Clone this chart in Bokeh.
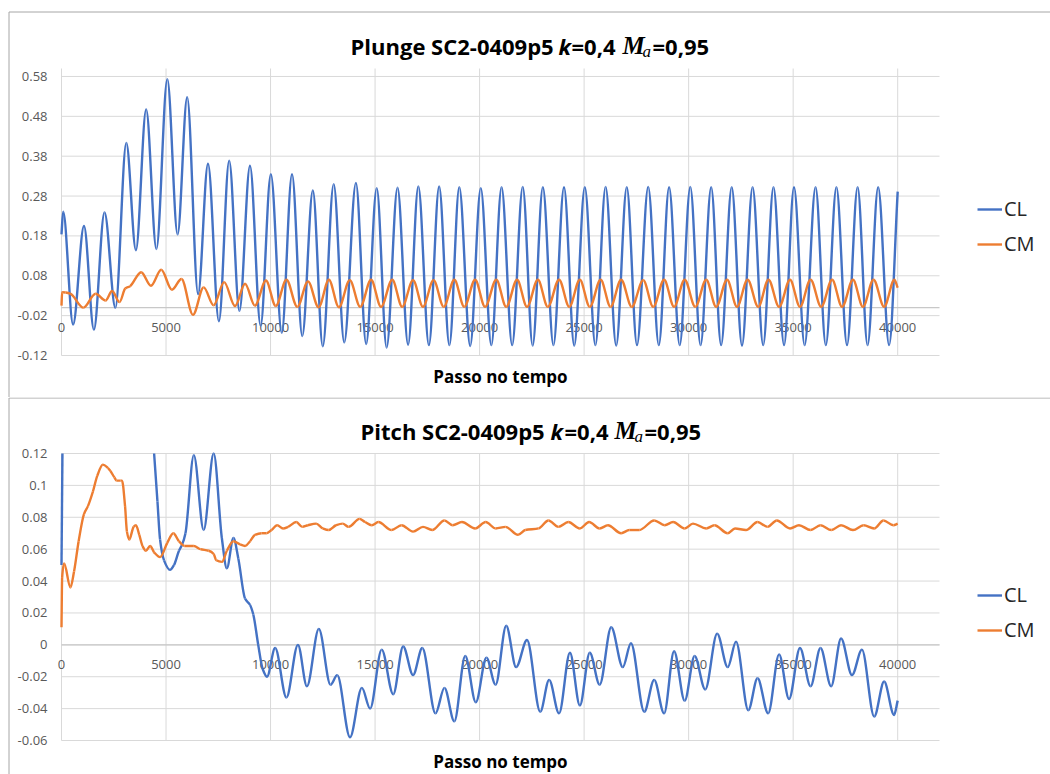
import numpy as np
from bokeh.core.properties import value
from bokeh.layouts import column
from bokeh.models import Legend, LegendItem, Range1d
from bokeh.plotting import figure
from bokeh.embed import file_html
from bokeh.resources import INLINE

# ---------------------------------------------------------------- data
x_ticks = [0, 5000, 10000, 15000, 20000, 25000, 30000, 35000, 40000]
x_tick_labels = ["0", "5000", "10000", "15000", "20000", "25000", "30000", "35000", "40000"]
x_axis_end = 42000

plunge_y_ticks = [-0.12, -0.02, 0.08, 0.18, 0.28, 0.38, 0.48, 0.58]
plunge_y_labels = ["-0.12", "-0.02", "0.08", "0.18", "0.28", "0.38", "0.48", "0.58"]
plunge_y_span = (-0.12, 0.60)

pitch_y_ticks = [-0.06, -0.04, -0.02, 0.0, 0.02, 0.04, 0.06, 0.08, 0.10, 0.12]
pitch_y_labels = ["-0.06", "-0.04", "-0.02", "0", "0.02", "0.04", "0.06", "0.08", "0.1", "0.12"]
pitch_y_span = (-0.06, 0.12)

series_names = ["CL", "CM"]

# (time step, coefficient) samples, plunge case
plunge_cl = [
    (0, 0.184), (80, 0.241), (554, -0.042), (1076, 0.205), (1550, -0.055), (2057, 0.239),
    (2579, 0.000), (3100, 0.413), (3560, 0.144), (4050, 0.497), (4540, 0.147), (5062, 0.573),
    (5553, 0.184), (6012, 0.528), (6534, 0.034), (7008, 0.361), (7530, -0.034), (8021, 0.369),
    (8511, -0.008), (9017, 0.356), (9524, -0.045), (10014, 0.335), (10536, -0.063), (11027, 0.335),
    (11517, -0.071), (12023, 0.294), (12498, -0.097), (13020, 0.310), (13526, -0.087), (14084, 0.313),
    (14573, -0.091), (15079, 0.300), (15553, -0.100), (16074, 0.301), (16580, -0.093), (17070, 0.304),
    (17575, -0.094), (18065, 0.304), (18555, -0.094), (19029, 0.302), (19550, -0.096), (20056, 0.300),
    (20562, -0.094), (21051, 0.302), (21557, -0.094), (22063, 0.303), (22537, -0.095), (23026, 0.302),
    (23532, -0.094), (24038, 0.302), (24527, -0.095), (25033, 0.302), (25539, -0.094), (26028, 0.303),
    (26534, -0.095), (27040, 0.302), (27529, -0.094), (28066, 0.303), (28573, -0.094), (29065, 0.302),
    (29572, -0.094), (30079, 0.303), (30571, -0.094), (31078, 0.302), (31553, -0.094), (32060, 0.302),
    (32552, -0.095), (33059, 0.302), (33566, -0.094), (34058, 0.302), (34565, -0.094), (35040, 0.302),
    (35548, -0.094), (36071, 0.302), (36562, -0.094), (37069, 0.302), (37576, -0.094), (38083, 0.302),
    (38559, -0.094), (39066, 0.302), (39589, -0.094), (40000, 0.291),
]
plunge_cm = [
    (0, 0.005), (30, 0.039), (200, 0.038), (420, 0.035), (1050, 0.000), (1630, 0.035),
    (2110, 0.018), (2420, 0.042), (2775, 0.014), (3050, 0.048), (3280, 0.054), (3810, 0.089),
    (4280, 0.055), (4770, 0.095), (5280, 0.045), (5740, 0.072), (6290, -0.018), (6800, 0.051),
    (7280, 0.006), (7780, 0.064), (8300, 0.004), (8780, 0.060), (9250, 0.005), (9780, 0.068),
    (10250, 0.004), (10760, 0.070), (11280, 0.002), (11790, 0.066), (12300, 0.001), (12790, 0.070),
    (13270, 0.001), (13790, 0.069), (14289, 0.002), (14810, 0.070), (15284, 0.002), (15822, 0.070),
    (16296, 0.002), (16817, 0.069), (17291, 0.002), (17797, 0.069), (18286, 0.002), (18792, 0.070),
    (19266, 0.002), (19787, 0.070), (20261, 0.002), (20799, 0.070), (21273, 0.002), (21794, 0.070),
    (22268, 0.002), (22789, 0.070), (23263, 0.002), (23801, 0.070), (24290, 0.002), (24796, 0.070),
    (25270, 0.002), (25791, 0.070), (26265, 0.002), (26771, 0.070), (27277, 0.002), (27828, 0.069),
    (28304, 0.002), (28827, 0.070), (29303, 0.002), (29810, 0.070), (30317, 0.002), (30840, 0.070),
    (31316, 0.002), (31839, 0.070), (32314, 0.002), (32821, 0.070), (33329, 0.002), (33820, 0.070),
    (34327, 0.002), (34850, 0.070), (35326, 0.002), (35833, 0.070), (36340, 0.002), (36863, 0.070),
    (37339, 0.002), (37862, 0.070), (38337, 0.002), (38844, 0.070), (39352, 0.002), (39843, 0.070),
    (40000, 0.050),
]

# (time step, coefficient) samples, pitch case; None marks where CL leaves the visible range
pitch_cl = [
    (0, 0.050), (45, 0.120), None,
    (4430, 0.120), (4590, 0.090), (4715, 0.066), (4905, 0.053), (5190, 0.047), (5380, 0.050),
    (5620, 0.059), (5775, 0.063), (5930, 0.070), (6330, 0.119), (6800, 0.072), (7280, 0.120),
    (7670, 0.067), (7910, 0.048), (8225, 0.067), (8460, 0.054), (8780, 0.029), (9020, 0.025),
    (9175, 0.019), (9410, 0.000), (9620, -0.015), (9830, -0.020), (10220, -0.002), (10760, -0.033),
    (11310, 0.000), (11740, -0.026), (12310, 0.010), (12870, -0.025), (13190, -0.019), (13800, -0.058),
    (14368, -0.027), (14763, -0.040), (15316, -0.003), (15869, -0.031), (16343, -0.001), (16817, -0.019),
    (17259, -0.002), (17891, -0.043), (18318, -0.027), (18792, -0.048), (19313, -0.007), (19819, -0.036),
    (20325, -0.008), (20767, -0.025), (21273, 0.012), (21747, -0.014), (22268, 0.003), (22900, -0.042),
    (23327, -0.022), (23801, -0.043), (24322, -0.005), (24797, -0.038), (25270, -0.005), (25744, -0.025),
    (26297, 0.011), (26850, -0.014), (27240, 0.001), (27876, -0.042), (28352, -0.022), (28827, -0.043),
    (29303, -0.004), (29810, -0.035), (30285, -0.007), (30793, -0.028), (31363, 0.007), (31870, -0.014),
    (32267, 0.002), (32853, -0.041), (33297, -0.021), (33804, -0.043), (34327, -0.006), (34803, -0.034),
    (35326, -0.002), (35833, -0.026), (36308, -0.002), (36816, -0.026), (37291, 0.004), (37814, -0.019),
    (38290, -0.003), (38876, -0.045), (39352, -0.023), (39827, -0.044), (40000, -0.035),
]
pitch_cm = [
    (0, 0.011), (30, 0.042), (127, 0.051), (427, 0.036), (600, 0.046), (820, 0.065),
    (1075, 0.082), (1265, 0.087), (1500, 0.096), (1710, 0.106), (1980, 0.113), (2215, 0.111),
    (2340, 0.109), (2530, 0.105), (2640, 0.103), (2815, 0.103), (2895, 0.103), (3040, 0.087),
    (3130, 0.071), (3240, 0.066), (3450, 0.074), (3560, 0.075), (3720, 0.069), (3875, 0.062),
    (4035, 0.059), (4240, 0.062), (4430, 0.058), (4715, 0.055), (5060, 0.064), (5350, 0.070),
    (5615, 0.065), (5885, 0.062), (6330, 0.062), (6645, 0.060), (7040, 0.059), (7280, 0.057),
    (7405, 0.053), (7675, 0.052), (7910, 0.059), (8225, 0.065), (8545, 0.063), (8780, 0.062),
    (9020, 0.065), (9255, 0.069), (9570, 0.070), (9810, 0.070), (10045, 0.072), (10315, 0.075),
    (10600, 0.073), (10840, 0.074), (11230, 0.077), (11520, 0.074), (11785, 0.075), (12180, 0.076),
    (12500, 0.073), (12780, 0.072), (13130, 0.075), (13450, 0.076), (13736, 0.074), (14257, 0.079),
    (14526, 0.077), (14842, 0.075), (15158, 0.077), (15790, 0.072), (16264, 0.075), (16817, 0.071),
    (17291, 0.074), (17733, 0.072), (18318, 0.078), (18713, 0.075), (19155, 0.077), (19787, 0.073),
    (20293, 0.077), (20767, 0.073), (21241, 0.074), (21841, 0.069), (22189, 0.072), (22821, 0.073),
    (23295, 0.078), (23769, 0.074), (24243, 0.077), (24796, 0.073), (25238, 0.077), (25744, 0.073),
    (26139, 0.075), (26771, 0.070), (27166, 0.072), (27640, 0.072), (28352, 0.078), (28859, 0.075),
    (29255, 0.077), (29810, 0.073), (30206, 0.076), (30840, 0.073), (31236, 0.075), (31870, 0.070),
    (32219, 0.073), (32742, 0.072), (33297, 0.077), (33772, 0.074), (34216, 0.078), (34850, 0.073),
    (35278, 0.075), (35833, 0.072), (36308, 0.075), (36831, 0.072), (37291, 0.075), (37862, 0.072),
    (38369, 0.075), (38876, 0.073), (39320, 0.078), (39795, 0.075), (40000, 0.076),
]

# ---------------------------------------------------------------- style / geometry
BLUE = "#4472C4"
ORANGE = "#ED7D31"
GRID = "#d9d9d9"
AXIS = "#c8c8c8"
BORDER = "#a6a6a6"
TICK_TEXT = "#595959"
SANS = "Open Sans"
SERIF = "Liberation Serif"
LINE_W = 2.4

PAGE_W = 1050
PLOT_LEFT, PLOT_RIGHT = 61, 939          # plot-area edges, px
PLOT_H = 287                              # plot-area height, px
SX = (PLOT_RIGHT - PLOT_LEFT) / x_axis_end  # px per time step


def smooth_segments(pts):
    """Monotone cubic Bezier pieces through the samples (a smoothed line);
    a None entry starts a new run."""
    runs, cur = [], []
    for p in pts:
        if p is None:
            runs.append(cur)
            cur = []
        else:
            cur.append(p)
    runs.append(cur)
    out = {k: [] for k in ("x0", "y0", "x1", "y1", "cx0", "cy0", "cx1", "cy1")}
    for run in runs:
        x = np.array([p[0] for p in run], dtype=float)
        y = np.array([p[1] for p in run], dtype=float)
        h = np.diff(x)
        d = np.diff(y) / h
        m = np.zeros_like(y)
        m[0], m[-1] = d[0], d[-1]
        for i in range(1, len(y) - 1):
            if d[i - 1] * d[i] > 0:
                w1 = 2 * h[i] + h[i - 1]
                w2 = h[i] + 2 * h[i - 1]
                m[i] = (w1 + w2) / (w1 / d[i - 1] + w2 / d[i])
        out["x0"] += list(x[:-1]); out["y0"] += list(y[:-1])
        out["x1"] += list(x[1:]); out["y1"] += list(y[1:])
        out["cx0"] += list(x[:-1] + h / 3); out["cy0"] += list(y[:-1] + m[:-1] * h / 3)
        out["cx1"] += list(x[1:] - h / 3); out["cy1"] += list(y[1:] - m[1:] * h / 3)
    return out


def make_chart(name, cl, cm, y_ticks, y_labels, y_span, canvas_top, canvas_h,
               plot_top, box_top, title_base, title_x, legend_bottom):
    """One chart panel. Pixel arguments are page coordinates."""
    lo, hi = y_span
    sy = PLOT_H / (hi - lo)                      # px per unit

    def xd(px):                                  # page x -> time step
        return (px - PLOT_LEFT) / SX

    def yd(py):                                  # page y -> coefficient
        return hi - (py - plot_top) / sy

    p = figure(
        width=PAGE_W, height=canvas_h,
        x_range=Range1d(xd(0), xd(PAGE_W)),
        y_range=Range1d(yd(canvas_top + canvas_h), yd(canvas_top)),
        x_axis_type=None, y_axis_type=None, title=None,
        toolbar_location=None, output_backend="svg",
        min_border=0, outline_line_color=None,
        background_fill_color="white", border_fill_color="white",
    )
    p.grid.visible = False

    # chart border (top and left edges)
    bx = xd(8.5)
    by = yd(box_top + 0.5)
    p.segment(x0=[bx, bx], y0=[by, by], x1=[xd(PAGE_W), bx], y1=[by, yd(canvas_top + canvas_h)],
              line_color=BORDER, line_width=1)

    # grid
    p.segment(x0=x_ticks, x1=x_ticks, y0=[lo] * len(x_ticks), y1=[hi] * len(x_ticks),
              line_color=GRID, line_width=1)
    p.segment(x0=[0] * len(y_ticks), x1=[x_axis_end] * len(y_ticks), y0=y_ticks, y1=y_ticks,
              line_color=GRID, line_width=1)
    # horizontal axis on the zero line
    p.segment(x0=[0], x1=[x_axis_end], y0=[0], y1=[0], line_color=AXIS, line_width=1.3)

    # tick labels
    p.text(x=[xd(PLOT_LEFT - 14)] * len(y_ticks), y=y_ticks, text=y_labels,
           text_font=value(SANS), text_font_size="13px", text_color=TICK_TEXT,
           text_align="right", text_baseline="middle")
    p.text(x=x_ticks, y=[-20 / sy] * len(x_ticks), text=x_tick_labels,
           text_font=value(SANS), text_font_size="13px", text_color=TICK_TEXT,
           text_align="center", text_baseline="middle")

    # series
    r_cl = p.bezier(line_color=BLUE, line_width=LINE_W, **smooth_segments(cl))
    r_cm = p.bezier(line_color=ORANGE, line_width=LINE_W, **smooth_segments(cm))

    # axis title
    p.text(x=[x_axis_end / 2], y=[yd(plot_top + PLOT_H + 21)], text=["Passo no tempo"],
           text_font=value(SANS), text_font_style="bold", text_font_size="17px",
           text_color="#000000", text_align="center", text_baseline="alphabetic")

    # chart title: name, k=0,4, M_a=0,95
    pieces = [
        (name, title_x[0], 0, SANS, "bold", "22px"),
        ("k", title_x[1], 0, SANS, "bold italic", "22px"),
        ("=0,4", title_x[2], 0, SANS, "bold", "22px"),
        ("M", title_x[3], 0, SERIF, "bold italic", "25px"),
        ("a", title_x[4], 6, SERIF, "italic", "17px"),
        ("=0,95", title_x[5], 0, SANS, "bold", "22px"),
    ]
    for text, px, drop, font, style, size in pieces:
        p.text(x=[xd(px)], y=[yd(title_base + drop)], text=[text],
               text_font=value(font), text_font_style=style, text_font_size=size,
               text_color="#000000", text_align="left", text_baseline="alphabetic")

    # legend, right of the plot area
    legend = Legend(
        items=[LegendItem(label=n, renderers=[r]) for n, r in zip(series_names, (r_cl, r_cm))],
        location=(977, canvas_top + canvas_h - legend_bottom), orientation="vertical",
        glyph_width=25, glyph_height=20, label_standoff=2, spacing=8,
        padding=0, margin=0, border_line_color=None, background_fill_alpha=0,
        label_text_font=SANS, label_text_font_size="20px", label_text_color="#262626",
    )
    p.add_layout(legend)
    return p


top = make_chart("Plunge SC2-0409p5", plunge_cl, plunge_cm,
                 plunge_y_ticks, plunge_y_labels, plunge_y_span,
                 canvas_top=0, canvas_h=397, plot_top=68, box_top=11, title_base=45,
                 title_x=(350, 558, 571, 622, 642, 652), legend_bottom=257)
bottom = make_chart("Pitch SC2-0409p5", pitch_cl, pitch_cm,
                    pitch_y_ticks, pitch_y_labels, pitch_y_span,
                    canvas_top=397, canvas_h=377, plot_top=453, box_top=397, title_base=430,
                    title_x=(360, 550, 564, 614, 634, 644), legend_bottom=643)

layout = column(top, bottom, spacing=0)

open("out.html", "w").write(file_html(layout, INLINE))
